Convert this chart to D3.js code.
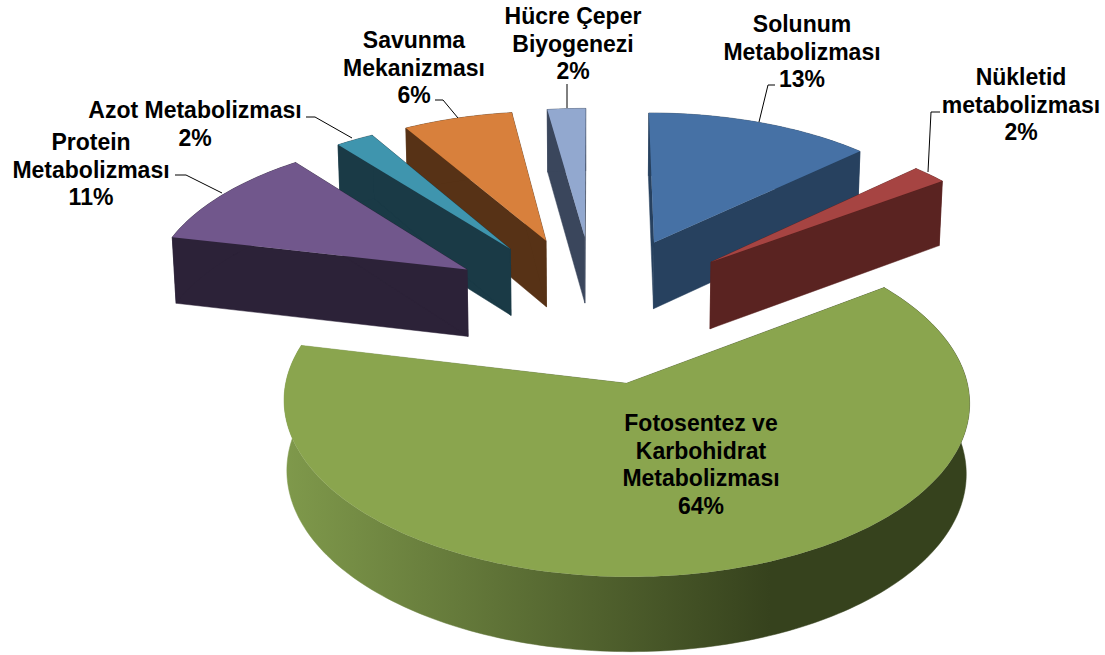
<!doctype html>
<html lang="tr">
<head>
    <meta charset="UTF-8">
    <script src="https://cdnjs.cloudflare.com/ajax/libs/d3/7.0.0/d3.min.js"></script>
    <title>Metabolizma</title>
    <style>
        html, body { margin: 0; padding: 0; background: #fff; }
        text { font-family: "Liberation Sans", Arial, sans-serif; font-weight: bold; font-size: 23px; fill: #000; }
    </style>
</head>
<body>

<div id="viz_area"></div>

<script>
    // values in percent, clockwise from 12 o'clock (labels show them rounded)
    const categories = ["Solunum Metabolizması", "Nükletid metabolizması", "Fotosentez ve Karbohidrat Metabolizması",
        "Protein Metabolizması", "Azot Metabolizması", "Savunma Mekanizması", "Hücre Çeper Biyogenezi"];
    const values = [13, 2, 63.6, 10.7, 2.2, 6.3, 2.2];

    const topColors = ["#4671a5", "#a64442", "#8aa54e", "#71578c", "#3f95ae", "#d8803c", "#92a8cf"];
    const wallColors = ["#27415f", "#5a2321", "url(#greenWall)", "#2c2238", "#1a3a46", "#573216", "#3a465c"];

    // how far each slice is pulled out of the pie, and its size
    const explode = [0.485, 0.485, 0.47, 0.485, 0.485, 0.485, 0.485];
    const sizes = [1, 1, 1.016, 1, 1, 1, 1];

    const labelLines = [
        ["Solunum", "Metabolizması", "13%"],
        ["Nükletid", "metabolizması", "2%"],
        ["Fotosentez ve", "Karbohidrat", "Metabolizması", "64%"],
        ["Protein", "Metabolizması", "11%"],
        ["Azot Metabolizması", "2%"],
        ["Savunma", "Mekanizması", "6%"],
        ["Hücre Çeper", "Biyogenezi", "2%"]
    ];
    // label centre x and first baseline
    const labelPos = [[802, 32], [1021, 85], [701, 431], [91, 150], [195, 118], [414, 48], [573, 24]];
    const leaders = [
        [[775, 85], [768, 85], [759, 122]],
        [[940, 112], [931, 112], [928, 172]],
        [],
        [[175, 175], [186, 175], [222, 193]],
        [[306, 117], [315, 117], [352, 138]],
        [[435, 100], [443, 100], [458, 118]],
        [[567, 84], [567, 108]]
    ];

    const width = 1105, height = 655;
    const cx = 595, cy = 308.5, radius = 320, tilt = 0.484, persp = 0.1, depth = 68;
    const lineStep = 27.5;

    const svg = d3.select('#viz_area')
        .append("svg")
        .attr("width", width)
        .attr("height", height)
        .style("display", "block");

    const grad = svg.append("defs").append("linearGradient")
        .attr("id", "greenWall")
        .attr("gradientUnits", "userSpaceOnUse")
        .attr("x1", 285).attr("x2", 770).attr("y1", 0).attr("y2", 0);
    grad.append("stop").attr("offset", "0%").attr("stop-color", "#7f994b");
    grad.append("stop").attr("offset", "100%").attr("stop-color", "#36421d");

    const xScale = d3.scaleLinear().domain([-1, 1]).range([cx - radius, cx + radius]);
    const yScale = d3.scaleLinear().domain([-1, 1]).range([cy + radius * tilt, cy - radius * tilt]);

    // world point on the pie plane -> screen, low = bottom face of the slab
    function project(p, low) {
        const s = 1 / (1 + persp * p[1]);
        const shrink = low ? 0.991 : 1;
        return [
            cx + (xScale(p[0] * s) - cx) * shrink,
            yScale(p[1] * s) + (low ? depth * Math.pow(s, 0.6) : 0)
        ];
    }

    const line = d3.line();
    const pie = d3.pie().sort(null)(values);

    const slices = pie.map(function(d, i) {
        const mid = (d.startAngle + d.endAngle) / 2;
        const apex = [explode[i] * Math.sin(mid), explode[i] * Math.cos(mid)];
        const n = Math.max(4, Math.ceil((d.endAngle - d.startAngle) / 0.02));
        const rim = d3.range(n + 1).map(function(k) {
            const a = d.startAngle + (d.endAngle - d.startAngle) * k / n;
            return [apex[0] + sizes[i] * Math.sin(a), apex[1] + sizes[i] * Math.cos(a)];
        });
        return {i: i, apex: apex, rim: rim};
    }).sort(function(a, b) { return b.apex[1] - a.apex[1]; });

    function wall(a, b) {
        return a.map(function(p) { return project(p, false); })
            .concat(b.slice().reverse().map(function(p) { return project(p, true); }));
    }

    const g = svg.selectAll("g.slice")
        .data(slices)
        .join("g")
        .attr("class", "slice");

    g.each(function(s) {
        const sel = d3.select(this);
        const first = [s.apex, s.rim[0]], last = [s.apex, s.rim[s.rim.length - 1]];
        [first, s.rim, last].forEach(function(edge) {
            sel.append("path")
                .attr("d", line(wall(edge, edge)) + "Z")
                .attr("fill", wallColors[s.i])
                .attr("stroke", wallColors[s.i])
                .attr("stroke-width", 0.5);
        });
        sel.append("path")
            .attr("d", line([s.apex].concat(s.rim).map(function(p) { return project(p, false); })) + "Z")
            .attr("fill", topColors[s.i]);
    });

    svg.selectAll("path.leader")
        .data(leaders.filter(function(l) { return l.length; }))
        .join("path")
        .attr("class", "leader")
        .attr("d", line)
        .attr("fill", "none")
        .attr("stroke", "#000")
        .attr("stroke-width", 1);

    labelLines.forEach(function(lines, i) {
        const t = svg.append("text").attr("text-anchor", "middle");
        lines.forEach(function(txt, k) {
            t.append("tspan")
                .attr("x", labelPos[i][0])
                .attr("y", labelPos[i][1] + k * lineStep)
                .text(txt);
        });
    });
</script>
</body>
</html>
